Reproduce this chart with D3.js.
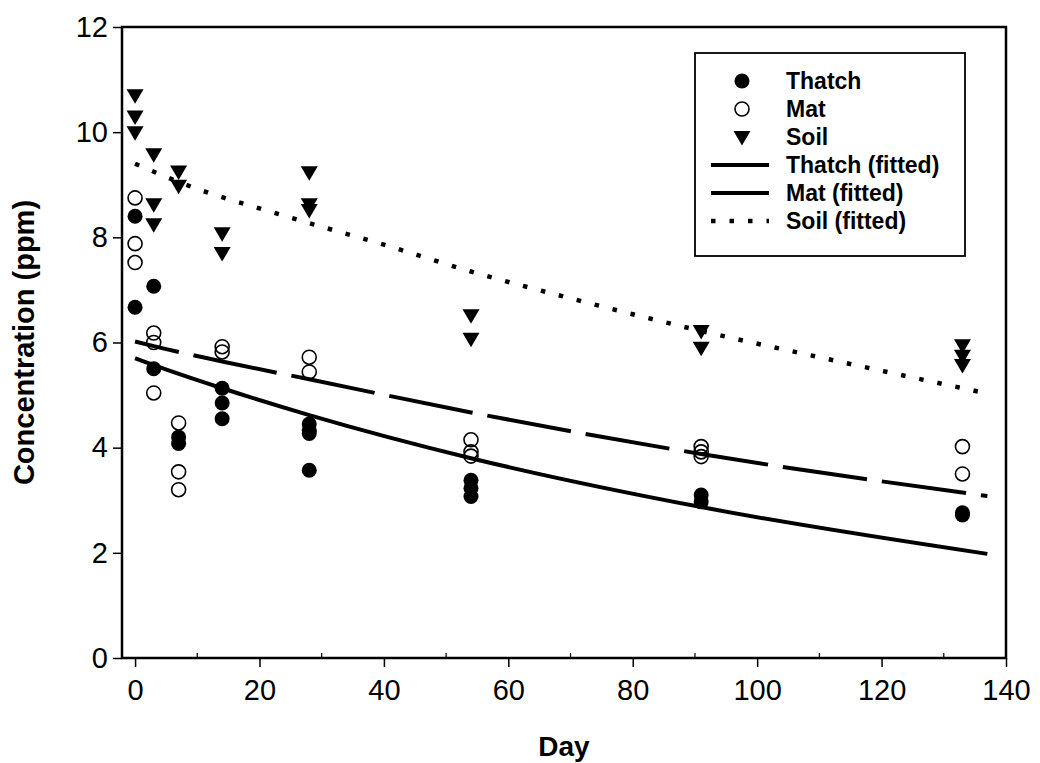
<!DOCTYPE html>
<html lang="en">
<head>
  <meta charset="UTF-8">
  <title>Concentration by day</title>
  <script src="https://cdn.jsdelivr.net/npm/d3@7"></script>
  <style>
    body { margin: 0; background: #fff; }
    text { font-family: "Liberation Sans", Arial, sans-serif; fill: #000; }
  </style>
</head>
<body>
<svg></svg>
<script>
  // observed values [day, ppm]
  const thatch = [[0, 8.4], [0, 6.67], [3, 7.07], [3, 5.5], [7, 4.2], [7, 4.08],
    [14, 5.13], [14, 4.85], [14, 4.55], [28, 4.45], [28, 4.33], [28, 4.27], [28, 3.57],
    [54, 3.38], [54, 3.23], [54, 3.07], [91, 3.1], [91, 2.97], [133, 2.76], [133, 2.72]]
  const mat = [[0, 8.75], [0, 7.88], [0, 7.52], [3, 6.18], [3, 6.0], [3, 5.04],
    [7, 4.47], [7, 3.54], [7, 3.2], [14, 5.92], [14, 5.82], [28, 5.72], [28, 5.44],
    [54, 4.15], [54, 3.92], [54, 3.84], [91, 4.02], [91, 3.92], [91, 3.83], [133, 4.02], [133, 3.5]]
  const soil = [[0, 10.7], [0, 10.3], [0, 10.0], [3, 9.58], [3, 8.63], [3, 8.25],
    [7, 9.25], [7, 8.98], [14, 8.08], [14, 7.7], [28, 9.24], [28, 8.63], [28, 8.52],
    [54, 6.52], [54, 6.07], [91, 6.22], [91, 5.9], [133, 5.95], [133, 5.75], [133, 5.57]]

  // fitted curves
  const thatchFit = [[0, 5.7], [3, 5.57], [14, 5.13], [28, 4.62], [54, 3.8], [91, 2.87], [137, 1.98]]
  const matFit = [[0, 6.02], [3, 5.93], [14, 5.64], [28, 5.3], [54, 4.67], [91, 3.88], [137, 3.08]]
  const soilFit = [[0, 9.4], [10, 8.92], [20, 8.55], [28, 8.27], [40, 7.86], [54, 7.35],
    [70, 6.84], [91, 6.22], [110, 5.72], [137, 5.03]]

  const xTicks = [0, 20, 40, 60, 80, 100, 120, 140]
  const xMinor = [10, 30, 50, 70, 90, 110, 130]
  const yTicks = [0, 2, 4, 6, 8, 10, 12]

  const legendItems = [
    {label: 'Thatch', kind: 'filled'},
    {label: 'Mat', kind: 'open'},
    {label: 'Soil', kind: 'tri'},
    {label: 'Thatch (fitted)', kind: 'solid'},
    {label: 'Mat (fitted)', kind: 'solid'},
    {label: 'Soil (fitted)', kind: 'dot'}
  ]

  const width = 1040, height = 763
  const margin = ({top: 27, right: 34, bottom: 105, left: 122})

  const svg = d3.select('svg')
      .attr('width', width)
      .attr('height', height)

  const x = d3.scaleLinear()
      .domain([-2.1, 140])
      .range([margin.left, width - margin.right])

  const y = d3.scaleLinear()
      .domain([0, 12])
      .range([height - margin.bottom, margin.top])

  const tri = 'M-8.5,-6L8.5,-6L0,8.5Z'

  // frame
  svg.append('rect')
      .attr('x', margin.left)
      .attr('y', margin.top)
      .attr('width', x.range()[1] - margin.left)
      .attr('height', y.range()[0] - margin.top)
      .attr('fill', 'none')
      .attr('stroke', '#000')
      .attr('stroke-width', 2.5)

  // x axis
  const gx = svg.append('g')
      .attr('transform', `translate(0,${y(0)})`)
      .call(d3.axisBottom(x).tickValues(xTicks).tickSize(9).tickPadding(12).tickFormat(d3.format('d')))
  gx.select('.domain').remove()
  gx.selectAll('line').attr('stroke-width', 1.5)
  gx.selectAll('text').attr('font-size', 29).attr('font-family', '"Liberation Sans", Arial, sans-serif')

  svg.append('g')
      .selectAll('line')
      .data(xMinor)
      .join('line')
      .attr('x1', d => x(d)).attr('x2', d => x(d))
      .attr('y1', y(0)).attr('y2', y(0) - 5)
      .attr('stroke', '#000')
      .attr('stroke-width', 1.2)

  // y axis
  const gy = svg.append('g')
      .attr('transform', `translate(${margin.left},0)`)
      .call(d3.axisLeft(y).tickValues(yTicks).tickSize(9).tickPadding(5))
  gy.select('.domain').remove()
  gy.selectAll('line').attr('stroke-width', 1.5)
  gy.selectAll('text').attr('font-size', 29).attr('font-family', '"Liberation Sans", Arial, sans-serif')

  svg.append('text')
      .attr('x', (x.range()[0] + x.range()[1]) / 2)
      .attr('y', 756)
      .attr('text-anchor', 'middle')
      .attr('font-size', 28)
      .attr('font-weight', 'bold')
      .text('Day')

  svg.append('text')
      .attr('transform', `translate(34,${(y.range()[0] + y.range()[1]) / 2}) rotate(-90)`)
      .attr('text-anchor', 'middle')
      .attr('font-size', 29)
      .attr('font-weight', 'bold')
      .text('Concentration (ppm)')

  // fitted curves
  const line = d3.line()
      .x(d => x(d[0]))
      .y(d => y(d[1]))
      .curve(d3.curveMonotoneX)

  svg.append('path')
      .datum(soilFit)
      .attr('d', line)
      .attr('fill', 'none')
      .attr('stroke', '#000')
      .attr('stroke-width', 4.5)
      .attr('stroke-dasharray', '4.5,14')

  svg.append('path')
      .datum(matFit)
      .attr('d', line)
      .attr('fill', 'none')
      .attr('stroke', '#000')
      .attr('stroke-width', 4)
      .attr('stroke-dasharray', '85,15')
      .attr('stroke-dashoffset', -60)

  svg.append('path')
      .datum(thatchFit)
      .attr('d', line)
      .attr('fill', 'none')
      .attr('stroke', '#000')
      .attr('stroke-width', 4)

  // points
  svg.append('g')
      .selectAll('path')
      .data(soil)
      .join('path')
      .attr('d', tri)
      .attr('transform', d => `translate(${x(d[0])},${y(d[1])})`)
      .attr('fill', '#000')

  svg.append('g')
      .selectAll('circle')
      .data(mat)
      .join('circle')
      .attr('cx', d => x(d[0]))
      .attr('cy', d => y(d[1]))
      .attr('r', 7)
      .attr('fill', 'none')
      .attr('stroke', '#000')
      .attr('stroke-width', 1.6)

  svg.append('g')
      .selectAll('circle')
      .data(thatch)
      .join('circle')
      .attr('cx', d => x(d[0]))
      .attr('cy', d => y(d[1]))
      .attr('r', 7.5)
      .attr('fill', '#000')

  // legend
  const lg = svg.append('g')
  lg.append('rect')
      .attr('x', 695).attr('y', 53)
      .attr('width', 270).attr('height', 203)
      .attr('fill', '#fff')
      .attr('stroke', '#000')
      .attr('stroke-width', 1.8)

  const rows = lg.selectAll('g.row')
      .data(legendItems)
      .join('g')
      .attr('class', 'row')
      .attr('transform', (d, i) => `translate(0,${81 + i * 28})`)

  rows.each(function (d) {
    const g = d3.select(this)
    if (d.kind === 'filled') {
      g.append('circle').attr('cx', 742).attr('r', 7.5).attr('fill', '#000')
    } else if (d.kind === 'open') {
      g.append('circle').attr('cx', 742).attr('r', 7).attr('fill', 'none')
          .attr('stroke', '#000').attr('stroke-width', 1.6)
    } else if (d.kind === 'tri') {
      g.append('path').attr('d', tri).attr('transform', 'translate(742,0)').attr('fill', '#000')
    } else {
      g.append('line')
          .attr('x1', 711).attr('x2', 769)
          .attr('stroke', '#000')
          .attr('stroke-width', d.kind === 'dot' ? 4.5 : 4)
          .attr('stroke-dasharray', d.kind === 'dot' ? '4.5,14' : null)
    }
    g.append('text')
        .attr('x', 786)
        .attr('dy', '0.36em')
        .attr('font-size', 23)
        .attr('font-weight', 'bold')
        .text(d.label)
  })
</script>
</body>
</html>
